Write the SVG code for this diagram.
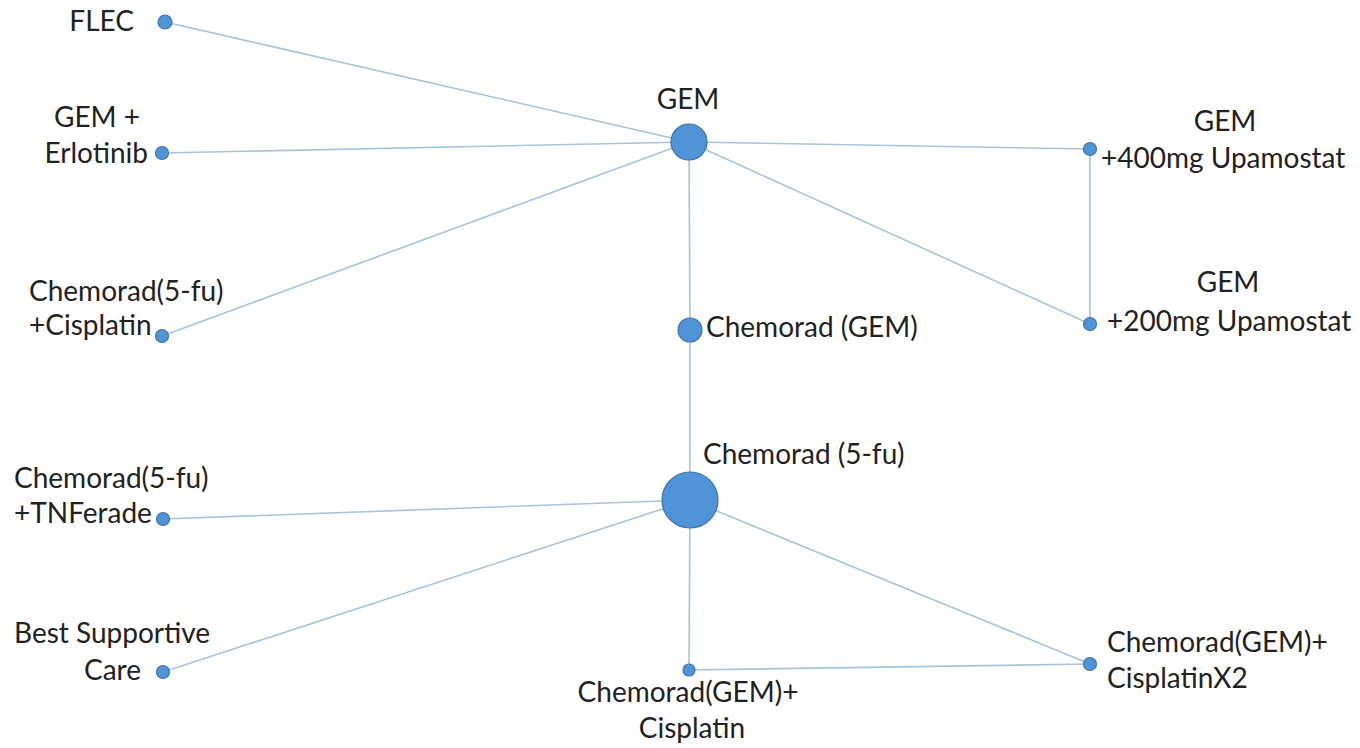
<svg xmlns="http://www.w3.org/2000/svg" width="1360" height="748" viewBox="0 0 1360 748">
<style>
.e{stroke:#a8c3da;stroke-width:1.6;fill:none}
.n{fill:#5093d6;stroke:#3f75ad;stroke-width:1.2}
text{font-family:Lato,"Open Sans",sans-serif;font-size:28px;fill:#222}
.m{text-anchor:middle}.r{text-anchor:end}
</style>
<rect width="1360" height="748" fill="#fff"/>
<g id="connectors">
<line class="e" x1="165" y1="22" x2="689" y2="142"/>
<line class="e" x1="162" y1="153" x2="689" y2="142"/>
<line class="e" x1="162" y1="336" x2="689" y2="142"/>
<line class="e" x1="689" y1="142" x2="1090" y2="149"/>
<line class="e" x1="689" y1="142" x2="1090" y2="324"/>
<line class="e" x1="1090" y1="149" x2="1090" y2="324"/>
<line class="e" x1="689" y1="142" x2="690" y2="330"/>
<line class="e" x1="690" y1="330" x2="690" y2="500"/>
<line class="e" x1="690" y1="500" x2="163" y2="519"/>
<line class="e" x1="690" y1="500" x2="163" y2="672"/>
<line class="e" x1="690" y1="500" x2="689" y2="670"/>
<line class="e" x1="690" y1="500" x2="1090" y2="664"/>
<line class="e" x1="689" y1="670" x2="1090" y2="664"/>
</g>
<g id="flec"><circle class="n" cx="165" cy="22" r="7"/><text class="r" x="134" y="31">FLEC</text></g>
<g id="gem-erlotinib"><circle class="n" cx="162" cy="153" r="6.5"/><text class="m" x="97" y="127">GEM +</text><text class="r" x="148" y="163">Erlotinib</text></g>
<g id="gem"><circle class="n" cx="689" cy="142" r="18"/><text class="m" x="688" y="109">GEM</text></g>
<g id="gem-400"><circle class="n" cx="1090" cy="149" r="6.5"/><text class="m" x="1225" y="131">GEM</text><text x="1101" y="168">+400mg Upamostat</text></g>
<g id="gem-200"><circle class="n" cx="1090" cy="324" r="6.5"/><text class="m" x="1228" y="292">GEM</text><text x="1107" y="331">+200mg Upamostat</text></g>
<g id="chemo5fu-cis"><circle class="n" cx="162" cy="336" r="6.5"/><text x="29" y="301">Chemorad(5-fu)</text><text x="29" y="335">+Cisplatin</text></g>
<g id="chemo-gem"><circle class="n" cx="690" cy="330" r="12"/><text x="706" y="337">Chemorad (GEM)</text></g>
<g id="chemo-5fu"><circle class="n" cx="690" cy="500" r="28"/><text x="703" y="464">Chemorad (5-fu)</text></g>
<g id="chemo5fu-tnf"><circle class="n" cx="163" cy="519" r="6.5"/><text x="14" y="488">Chemorad(5-fu)</text><text x="14" y="523">+TNFerade</text></g>
<g id="bsc"><circle class="n" cx="163" cy="672" r="6.5"/><text x="14" y="643">Best Supportive</text><text class="r" x="141" y="680">Care</text></g>
<g id="chemogem-cis"><circle class="n" cx="689" cy="670" r="6"/><text class="m" x="688" y="702">Chemorad(GEM)+</text><text class="m" x="692" y="738">Cisplatin</text></g>
<g id="chemogem-cisx2"><circle class="n" cx="1090" cy="664" r="6.5"/><text x="1107" y="652">Chemorad(GEM)+</text><text x="1107" y="688">CisplatinX2</text></g>
</svg>
